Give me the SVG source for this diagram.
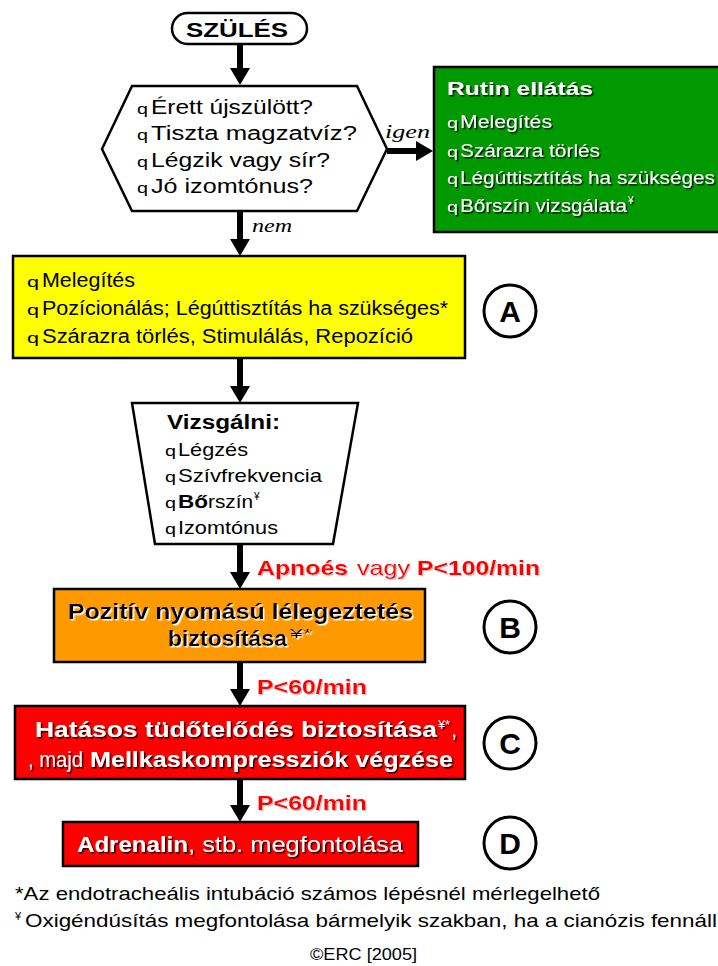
<svg xmlns="http://www.w3.org/2000/svg" width="718" height="966" viewBox="0 0 718 966">
<defs>
<style>
text{font-family:"Liberation Sans",Arial,sans-serif;}
.box{stroke:#000;stroke-width:2.5;}
.b{font-weight:bold;}
.it{font-family:"Liberation Serif","Times New Roman",serif;font-style:italic;font-size:19px;}
.t20{font-size:20px;}
.t17{font-size:17.5px;}
.t19{font-size:19px;}
.t22{font-size:22px;}
.q{font-size:14px;}
.wh{fill:#fff;filter:url(#sdark);}
.bk{fill:#000;}
.ob{fill:#000;filter:url(#slight);}
.red{fill:#ff0000;filter:url(#sred);font-size:21px;}
.arrow{stroke:#000;stroke-width:6;fill:none;}
.circ{fill:#fff;stroke:#000;stroke-width:3;}
.cl{font-size:30px;font-weight:bold;text-anchor:middle;}
.fn{font-size:19px;fill:#000;}
</style>
<filter id="sdark" x="-5%" y="-20%" width="110%" height="150%"><feDropShadow dx="1.5" dy="1.5" stdDeviation="0" flood-color="#000" flood-opacity="0.85"/></filter>
<filter id="slight" x="-5%" y="-20%" width="110%" height="150%"><feDropShadow dx="1.5" dy="1.5" stdDeviation="0" flood-color="#fff" flood-opacity="1"/></filter>
<filter id="sred" x="-5%" y="-20%" width="110%" height="150%"><feDropShadow dx="1.2" dy="1.2" stdDeviation="0" flood-color="#c0c0c0" flood-opacity="1"/></filter>
<marker id="ah" markerUnits="userSpaceOnUse" markerWidth="18" markerHeight="20" refX="0" refY="10" orient="auto"><path d="M0,0 L17,10 L0,20 z" fill="#000"/></marker>
</defs>
<rect width="718" height="966" fill="#fff"/>

<g id="connectors">
<line class="arrow" x1="240" y1="44" x2="240" y2="68" marker-end="url(#ah)"/>
<line class="arrow" x1="387" y1="151" x2="416" y2="151" marker-end="url(#ah)"/>
<line class="arrow" x1="240" y1="211" x2="240" y2="239" marker-end="url(#ah)"/>
<line class="arrow" x1="240" y1="358" x2="240" y2="386" marker-end="url(#ah)"/>
<line class="arrow" x1="240" y1="544" x2="240" y2="572" marker-end="url(#ah)"/>
<line class="arrow" x1="240" y1="662" x2="240" y2="689" marker-end="url(#ah)"/>
<line class="arrow" x1="240" y1="779" x2="240" y2="805" marker-end="url(#ah)"/>
</g>

<g id="edge-labels">
<text class="it" x="385" y="138" textLength="45" lengthAdjust="spacingAndGlyphs">igen</text>
<text class="it" x="252" y="232" textLength="40" lengthAdjust="spacingAndGlyphs">nem</text>
<text class="red b" x="257" y="575" textLength="91" lengthAdjust="spacingAndGlyphs">Apnoés</text>
<text class="red" x="357" y="575" textLength="53" lengthAdjust="spacingAndGlyphs">vagy</text>
<text class="red b" x="417" y="575" textLength="123" lengthAdjust="spacingAndGlyphs">P&lt;100/min</text>
<text class="red b" x="257" y="694" textLength="110" lengthAdjust="spacingAndGlyphs">P&lt;60/min</text>
<text class="red b" x="257" y="810" textLength="110" lengthAdjust="spacingAndGlyphs">P&lt;60/min</text>
</g>

<g id="node-start">
<rect class="box" x="172" y="13" width="135" height="31" rx="15.5" fill="#fff"/>
<text class="b t20" x="186" y="37" textLength="102" lengthAdjust="spacingAndGlyphs">SZÜLÉS</text>
</g>

<g id="node-question">
<polygon class="box" points="102,149 132,86 357,86 387,149 357,211 132,211" fill="#fff"/>
<text class="q bk" x="137" y="114" textLength="11" lengthAdjust="spacingAndGlyphs">q</text>
<text class="t20 bk" x="151" y="114" textLength="162" lengthAdjust="spacingAndGlyphs">Érett újszülött?</text>
<text class="q bk" x="137" y="140" textLength="11" lengthAdjust="spacingAndGlyphs">q</text>
<text class="t20 bk" x="151" y="140" textLength="206" lengthAdjust="spacingAndGlyphs">Tiszta magzatvíz?</text>
<text class="q bk" x="137" y="167" textLength="11" lengthAdjust="spacingAndGlyphs">q</text>
<text class="t20 bk" x="151" y="167" textLength="179" lengthAdjust="spacingAndGlyphs">Légzik vagy sír?</text>
<text class="q bk" x="137" y="193" textLength="11" lengthAdjust="spacingAndGlyphs">q</text>
<text class="t20 bk" x="151" y="193" textLength="162" lengthAdjust="spacingAndGlyphs">Jó izomtónus?</text>
</g>

<g id="node-routine">
<rect class="box" x="434" y="67" width="300" height="165" fill="#009a00"/>
<text class="b t19 wh" x="447" y="95" textLength="146" lengthAdjust="spacingAndGlyphs">Rutin ellátás</text>
<text class="q wh" x="447" y="128" textLength="11" lengthAdjust="spacingAndGlyphs">q</text>
<text class="t17 wh" x="460" y="128" textLength="92" lengthAdjust="spacingAndGlyphs">Melegítés</text>
<text class="q wh" x="447" y="157" textLength="11" lengthAdjust="spacingAndGlyphs">q</text>
<text class="t17 wh" x="460" y="157" textLength="140" lengthAdjust="spacingAndGlyphs">Szárazra törlés</text>
<text class="q wh" x="447" y="184" textLength="11" lengthAdjust="spacingAndGlyphs">q</text>
<text class="t17 wh" x="460" y="184" textLength="255" lengthAdjust="spacingAndGlyphs">Légúttisztítás ha szükséges</text>
<text class="q wh" x="447" y="212" textLength="11" lengthAdjust="spacingAndGlyphs">q</text>
<text class="t17 wh" x="460" y="212" textLength="167" lengthAdjust="spacingAndGlyphs">Bőrszín vizsgálata</text>
<text class="wh" x="628" y="204" style="font-size:10px">¥</text>
</g>

<g id="node-A">
<rect class="box" x="13" y="256" width="452" height="102" fill="#ffff00"/>
<text class="q bk" x="27" y="287" textLength="12" lengthAdjust="spacingAndGlyphs">q</text>
<text class="t20 bk" x="42" y="287" textLength="93" lengthAdjust="spacingAndGlyphs">Melegítés</text>
<text class="q bk" x="27" y="315" textLength="12" lengthAdjust="spacingAndGlyphs">q</text>
<text class="t20 bk" x="42" y="315" textLength="406" lengthAdjust="spacingAndGlyphs">Pozícionálás; Légúttisztítás ha szükséges*</text>
<text class="q bk" x="27" y="343" textLength="12" lengthAdjust="spacingAndGlyphs">q</text>
<text class="t20 bk" x="42" y="343" textLength="371" lengthAdjust="spacingAndGlyphs">Szárazra törlés, Stimulálás, Repozíció</text>
</g>

<g id="label-A">
<circle class="circ" cx="510" cy="311" r="26"/>
<text class="cl" x="510" y="322">A</text>
</g>

<g id="node-assess">
<polygon class="box" points="132,403 358,403 333,544 155,544" fill="#fff"/>
<text class="b t20 bk" x="167" y="429" textLength="113" lengthAdjust="spacingAndGlyphs">Vizsgálni:</text>
<text class="q bk" x="165" y="456" textLength="11" lengthAdjust="spacingAndGlyphs">q</text>
<text class="t19 bk" x="178" y="456" textLength="70" lengthAdjust="spacingAndGlyphs">Légzés</text>
<text class="q bk" x="165" y="482" textLength="11" lengthAdjust="spacingAndGlyphs">q</text>
<text class="t19 bk" x="178" y="482" textLength="144" lengthAdjust="spacingAndGlyphs">Szívfrekvencia</text>
<text class="q bk" x="165" y="508" textLength="11" lengthAdjust="spacingAndGlyphs">q</text>
<text class="t19 b bk" x="178" y="508" textLength="30" lengthAdjust="spacingAndGlyphs">Bő</text>
<text class="t19 bk" x="208" y="508" textLength="45" lengthAdjust="spacingAndGlyphs">rszín</text>
<text class="bk" x="254" y="500" style="font-size:10px">¥</text>
<text class="q bk" x="165" y="534" textLength="11" lengthAdjust="spacingAndGlyphs">q</text>
<text class="t19 bk" x="178" y="534" textLength="100" lengthAdjust="spacingAndGlyphs">Izomtónus</text>
</g>

<g id="node-B">
<rect class="box" x="54" y="589" width="371" height="73" fill="#ff9900"/>
<text class="t22 b ob" x="68" y="619" textLength="345" lengthAdjust="spacingAndGlyphs">Pozitív nyomású lélegeztetés</text>
<text class="t22 b ob" x="168" y="646" textLength="119" lengthAdjust="spacingAndGlyphs">biztosítása</text>
<text class="ob" x="290" y="638" style="font-size:12px" textLength="22" lengthAdjust="spacingAndGlyphs">¥*</text>
</g>

<g id="label-B">
<circle class="circ" cx="510" cy="627" r="26"/>
<text class="cl" x="510" y="638">B</text>
</g>

<g id="node-C">
<rect class="box" x="15" y="706" width="450" height="73" fill="#ff0000"/>
<text class="t22 b wh" x="35" y="737" textLength="402" lengthAdjust="spacingAndGlyphs">Hatásos tüdőtelődés biztosítása</text>
<text class="wh" x="438" y="729" style="font-size:12px" textLength="12" lengthAdjust="spacingAndGlyphs">¥*</text>
<text class="t22 wh" x="451" y="737">,</text>
<text class="t22 wh" x="28" y="767" textLength="55" lengthAdjust="spacingAndGlyphs">, majd</text>
<text class="t22 b wh" x="90" y="767" textLength="363" lengthAdjust="spacingAndGlyphs">Mellkaskompressziók végzése</text>
</g>

<g id="label-C">
<circle class="circ" cx="510" cy="743" r="26"/>
<text class="cl" x="510" y="754">C</text>
</g>

<g id="node-D">
<rect class="box" x="63" y="822" width="355" height="44" fill="#ff0000"/>
<text class="t22 b wh" x="77" y="852" textLength="111" lengthAdjust="spacingAndGlyphs">Adrenalin</text>
<text class="t22 wh" x="188" y="852" textLength="215" lengthAdjust="spacingAndGlyphs">, stb. megfontolása</text>
</g>

<g id="label-D">
<circle class="circ" cx="510" cy="843" r="26"/>
<text class="cl" x="510" y="854">D</text>
</g>

<g id="footnotes">
<text class="fn" x="15" y="900" textLength="585" lengthAdjust="spacingAndGlyphs">*Az endotracheális intubáció számos lépésnél mérlegelhető</text>
<text class="fn" x="15" y="920" style="font-size:11px">¥</text>
<text class="fn" x="25" y="927" textLength="692" lengthAdjust="spacingAndGlyphs">Oxigéndúsítás megfontolása bármelyik szakban, ha a cianózis fennáll</text>
<text class="fn" x="310" y="960" style="font-size:16px" textLength="107" lengthAdjust="spacingAndGlyphs">©ERC [2005]</text>
</g>
</svg>
